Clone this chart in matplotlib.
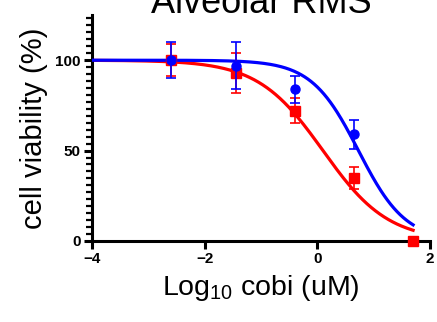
import numpy as np
import matplotlib
matplotlib.use('Agg')
import matplotlib.pyplot as plt
from matplotlib.ticker import AutoMinorLocator

plt.rcParams['font.family'] = ['Liberation Sans', 'DejaVu Sans']
plt.rcParams['mathtext.fontset'] = 'custom'
plt.rcParams['mathtext.rm'] = 'Liberation Sans'
plt.rcParams['mathtext.it'] = 'Liberation Sans:italic'

# log10 concentration (uM)
log_conc = [-2.6, -1.45, -0.4, 0.65, 1.7]

red_y = [100, 93, 72, 35, 0]
red_err = [9, 11, 7, 6, 0]
blue_y = [100, 97, 84, 59]
blue_err = [10, 13, 7.5, 8]

# fitted dose-response parameters (top, bottom, logIC50, hill)
red_fit = (100, 0, 0.1, 0.75)
blue_fit = (100, 0, 0.73, 1.04)


def response(x, top, bottom, logic50, hill):
    return bottom + (top - bottom) / (1 + 10 ** ((x - logic50) * hill))


fig = plt.figure(figsize=(4.37, 3.22), dpi=100)
ax = fig.add_axes([0.2105, 0.2516, 0.7735, 0.7018])

xs = np.linspace(-4, 1.7, 300)
ax.plot(xs, response(xs, *red_fit), color='#ff0000', lw=2.3, zorder=2)
ax.plot(xs, response(xs, *blue_fit), color='#0000ff', lw=2.3, zorder=3)

ax.errorbar(log_conc, red_y, yerr=red_err, fmt='s', color='#ff0000', ms=7.5,
            capsize=3.5, elinewidth=1.2, capthick=1.2, zorder=4, clip_on=False)
ax.errorbar(log_conc[:4], blue_y, yerr=blue_err, fmt='o', color='#0000ff', ms=6.5,
            capsize=3.5, elinewidth=1.2, capthick=1.2, zorder=5, clip_on=False)

ax.set_xlim(-4, 2)
ax.set_ylim(0, 125)
ax.set_xticks([-4, -2, 0, 2])
ax.set_yticks([0, 50, 100])
ax.yaxis.set_minor_locator(AutoMinorLocator(13))

for side in ['top', 'right']:
    ax.spines[side].set_visible(False)
for side in ['left', 'bottom']:
    ax.spines[side].set_linewidth(2.2)

ax.tick_params(axis='both', which='major', length=6, width=2.2, labelsize=11)
ax.tick_params(axis='y', which='major', pad=2)
ax.tick_params(axis='x', which='major', pad=2)
ax.tick_params(axis='y', which='minor', length=4, width=1.6)
for lab in ax.get_xticklabels() + ax.get_yticklabels():
    lab.set_fontweight('bold')

ax.set_ylabel('cell viability (%)', fontsize=21, labelpad=5)
ax.set_xlabel('Log$_{10}$ cobi (uM)', fontsize=20.5, labelpad=5)
ax.text(0.5, 1.0 + 2 / 226, 'Alveolar RMS', transform=ax.transAxes,
        fontsize=26, ha='center', va='baseline')

fig.savefig('out.png', dpi=100)
